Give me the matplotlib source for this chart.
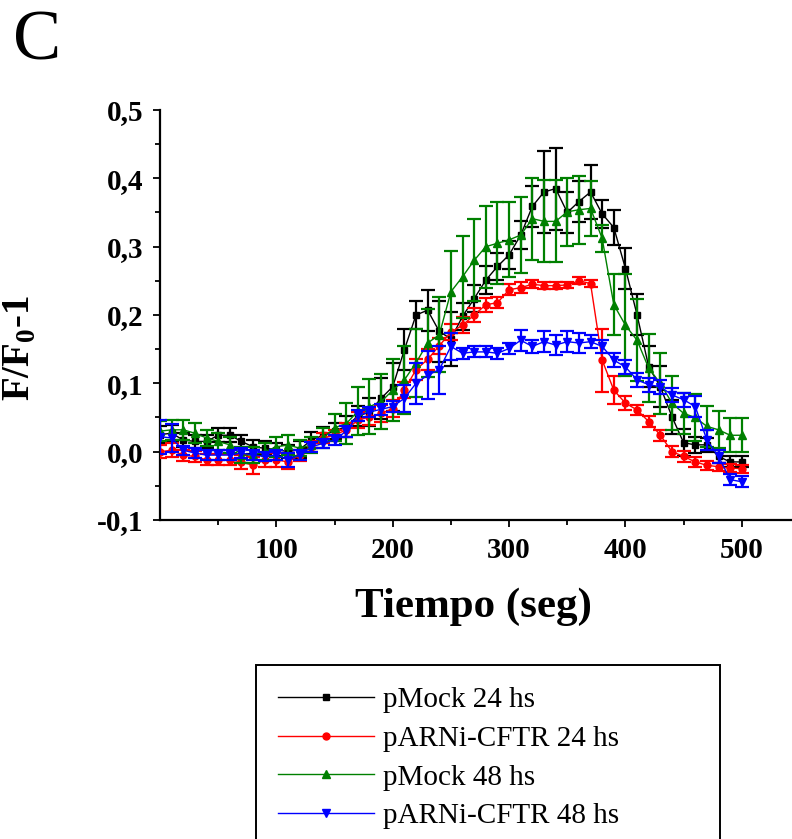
import numpy as np
import matplotlib
matplotlib.use('Agg')
import matplotlib.pyplot as plt
from matplotlib.ticker import FixedLocator, FuncFormatter

plt.rcParams['font.family'] = ['Liberation Serif', 'DejaVu Serif']
plt.rcParams['mathtext.fontset'] = 'custom'
plt.rcParams['mathtext.rm'] = 'Liberation Serif:bold'
plt.rcParams['mathtext.bf'] = 'Liberation Serif:bold'

# ---- data ----
tiempo = [0, 10, 20, 30, 40, 50, 60, 70, 80, 90,
          100, 110, 120, 130, 140, 150, 160, 170, 180, 190,
          200, 210, 220, 230, 240, 250, 260, 270, 280, 290,
          300, 310, 320, 330, 340, 350, 360, 370, 380, 390,
          400, 410, 420, 430, 440, 450, 460, 470, 480, 490, 500]

mock24 = [0.025, 0.027, 0.017, 0.015, 0.015, 0.024, 0.024, 0.015, 0.007, 0.005,
          0.003, 0.000, 0.003, 0.017, 0.024, 0.030, 0.037, 0.052, 0.058, 0.078,
          0.095, 0.149, 0.200, 0.207, 0.176, 0.165, 0.198, 0.224, 0.251, 0.271,
          0.288, 0.317, 0.359, 0.380, 0.385, 0.350, 0.366, 0.380, 0.348, 0.328,
          0.268, 0.200, 0.124, 0.095, 0.051, 0.013, 0.010, 0.010, -0.007, -0.015, -0.015]
mock24_err = [0.012, 0.012, 0.010, 0.010, 0.010, 0.010, 0.010, 0.010, 0.010, 0.010,
              0.010, 0.010, 0.012, 0.012, 0.012, 0.012, 0.015, 0.015, 0.020, 0.030,
              0.035, 0.030, 0.020, 0.030, 0.045, 0.040, 0.020, 0.020, 0.020, 0.020,
              0.020, 0.020, 0.030, 0.060, 0.060, 0.030, 0.030, 0.040, 0.020, 0.025,
              0.030, 0.030, 0.030, 0.030, 0.025, 0.020, 0.012, 0.010, 0.010, 0.008, 0.008]

arni24 = [0.000, 0.002, -0.005, -0.007, -0.012, -0.012, -0.012, -0.015, -0.020, -0.012,
          -0.012, -0.015, -0.005, 0.007, 0.020, 0.024, 0.032, 0.046, 0.051, 0.056,
          0.063, 0.090, 0.120, 0.135, 0.155, 0.175, 0.185, 0.200, 0.215, 0.218,
          0.237, 0.240, 0.245, 0.243, 0.243, 0.244, 0.250, 0.246, 0.134, 0.090,
          0.071, 0.061, 0.044, 0.024, 0.000, -0.007, -0.015, -0.020, -0.022, -0.024, -0.025]
arni24_err = [0.010, 0.010, 0.008, 0.008, 0.008, 0.008, 0.008, 0.010, 0.012, 0.010,
              0.010, 0.010, 0.008, 0.008, 0.008, 0.008, 0.010, 0.012, 0.012, 0.012,
              0.012, 0.012, 0.015, 0.015, 0.012, 0.012, 0.012, 0.010, 0.010, 0.008,
              0.008, 0.008, 0.006, 0.005, 0.005, 0.005, 0.005, 0.005, 0.046, 0.020,
              0.010, 0.008, 0.008, 0.008, 0.008, 0.008, 0.007, 0.007, 0.006, 0.006, 0.006]

mock48 = [0.030, 0.032, 0.032, 0.027, 0.020, 0.015, 0.010, -0.005, -0.005, 0.000,
          0.007, 0.010, 0.005, 0.010, 0.020, 0.035, 0.041, 0.059, 0.066, 0.073,
          0.090, 0.105, 0.130, 0.159, 0.171, 0.234, 0.256, 0.280, 0.300, 0.305,
          0.310, 0.317, 0.341, 0.337, 0.337, 0.351, 0.354, 0.356, 0.312, 0.215,
          0.185, 0.163, 0.122, 0.100, 0.071, 0.056, 0.050, 0.037, 0.032, 0.024, 0.024]
mock48_err = [0.015, 0.015, 0.015, 0.015, 0.012, 0.012, 0.012, 0.012, 0.012, 0.012,
              0.015, 0.015, 0.012, 0.012, 0.015, 0.020, 0.030, 0.035, 0.040, 0.040,
              0.045, 0.050, 0.050, 0.050, 0.055, 0.060, 0.060, 0.060, 0.060, 0.060,
              0.055, 0.055, 0.060, 0.060, 0.060, 0.050, 0.050, 0.040, 0.020, 0.045,
              0.075, 0.060, 0.050, 0.045, 0.040, 0.030, 0.035, 0.030, 0.027, 0.025, 0.025]

arni48 = [0.022, 0.020, 0.002, -0.002, -0.005, -0.005, -0.005, -0.002, -0.005, -0.007,
          -0.005, -0.012, -0.005, 0.007, 0.012, 0.017, 0.030, 0.053, 0.058, 0.062,
          0.066, 0.078, 0.100, 0.112, 0.120, 0.154, 0.144, 0.146, 0.146, 0.144,
          0.151, 0.163, 0.154, 0.161, 0.156, 0.161, 0.159, 0.161, 0.154, 0.134,
          0.124, 0.105, 0.098, 0.095, 0.083, 0.076, 0.066, 0.017, -0.007, -0.041, -0.044]
arni48_err = [0.025, 0.020, 0.007, 0.007, 0.007, 0.007, 0.007, 0.007, 0.007, 0.007,
              0.007, 0.010, 0.007, 0.007, 0.007, 0.007, 0.008, 0.008, 0.008, 0.008,
              0.008, 0.020, 0.030, 0.035, 0.035, 0.020, 0.008, 0.008, 0.008, 0.008,
              0.008, 0.015, 0.010, 0.015, 0.015, 0.015, 0.015, 0.010, 0.010, 0.010,
              0.010, 0.010, 0.010, 0.010, 0.010, 0.010, 0.015, 0.015, 0.010, 0.008, 0.008]

labels = ['pMock 24 hs', 'pARNi-CFTR 24 hs', 'pMock 48 hs', 'pARNi-CFTR 48 hs']
colors = ['black', '#ff0000', '#008000', '#0000ff']
markers = ['s', 'o', '^', 'v']

# ---- figure ----
W, H = 792, 839
fig = plt.figure(figsize=(W / 100, H / 100), dpi=100)
ax = fig.add_axes([160 / W, 1 - 520 / H, 640 / W, 410 / H])

series = [(mock24, mock24_err), (arni24, arni24_err),
          (mock48, mock48_err), (arni48, arni48_err)]
handles = []
for i, ((y, e), lab, c, m) in enumerate(zip(series, labels, colors, markers)):
    cont = ax.errorbar(tiempo, y, yerr=e, color=c, ecolor=c, marker=m,
                       markersize=6 if m in '^v' else 5, lw=1.0,
                       elinewidth=1.6, capsize=5, capthick=1.6,
                       label=lab, zorder=2 + i)
    handles.append(cont[0])

ax.set_xlim(0, 550)
ax.set_ylim(-0.1, 0.5)
ax.xaxis.set_major_locator(FixedLocator([100, 200, 300, 400, 500]))
ax.xaxis.set_minor_locator(FixedLocator([50, 150, 250, 350, 450, 550]))
ax.yaxis.set_major_locator(FixedLocator([-0.1, 0.0, 0.1, 0.2, 0.3, 0.4, 0.5]))
ax.yaxis.set_minor_locator(FixedLocator([-0.05, 0.05, 0.15, 0.25, 0.35, 0.45]))
ax.yaxis.set_major_formatter(FuncFormatter(lambda v, p: f'{v:.1f}'.replace('.', ',')))

for s in ['top', 'right']:
    ax.spines[s].set_visible(False)
for s in ['left', 'bottom']:
    ax.spines[s].set_linewidth(1.6)

ax.tick_params(which='major', direction='out', length=5, width=1.3)
ax.tick_params(which='minor', direction='out', length=3.5, width=1.3)
ax.tick_params(axis='x', which='major', pad=7)
ax.tick_params(axis='y', which='major', pad=7)
for t in ax.get_xticklabels() + ax.get_yticklabels():
    t.set_fontweight('bold')
    t.set_fontsize(21)

ax.set_xlabel('Tiempo (seg)', fontsize=31, fontweight='bold')
ax.xaxis.set_label_coords(0.49, -0.165)
ax.set_ylabel(r'F/F$_{\mathbf{0}}$-1', fontsize=28, fontweight='bold')
ax.yaxis.set_label_coords(-0.19, 0.42)

fig.text(13 / W, 1 - 60 / H, 'C', fontsize=52, va='baseline', ha='left')

leg = fig.legend(handles, labels, loc='upper left',
                 bbox_to_anchor=(256 / W, 0.0, (720 - 256) / W, 1 - 665 / H),
                 mode='expand', borderaxespad=0, fontsize=21,
                 handlelength=3.3, handletextpad=0.3, labelspacing=0.42,
                 borderpad=0.75, numpoints=1, fancybox=False, framealpha=1)
leg.get_frame().set_edgecolor('black')
leg.get_frame().set_linewidth(1.4)

fig.savefig('out.png', dpi=100)
